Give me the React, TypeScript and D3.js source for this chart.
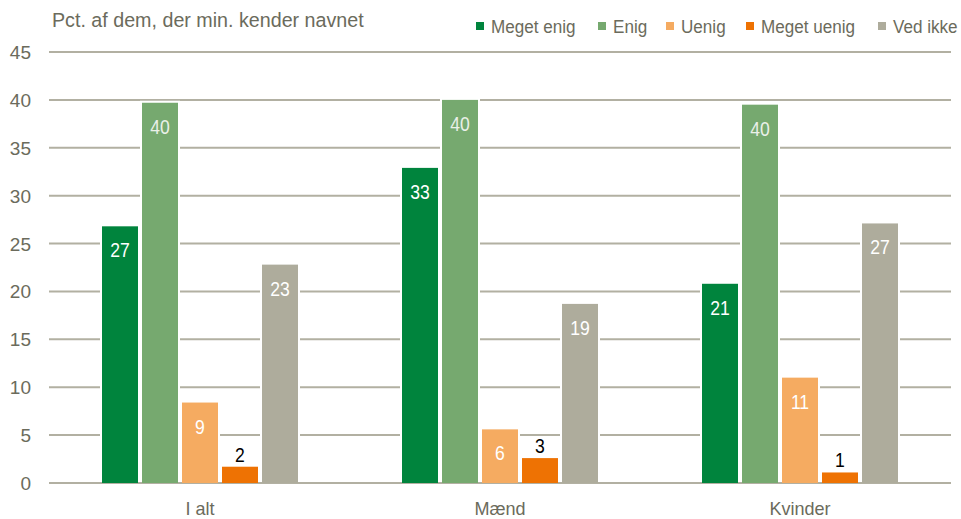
import React from "react";
import * as d3 from "d3";

const categories = ["I alt", "Mænd", "Kvinder"];
const series = ["Meget enig", "Enig", "Uenig", "Meget uenig", "Ved ikke"];
const colors = ["#00843d", "#76a96f", "#f5ab61", "#ee7203", "#aeac9c"];
const values = [
  [26.8, 39.7, 8.4, 1.7, 22.8],
  [32.9, 40.0, 5.6, 2.6, 18.7],
  [20.8, 39.5, 11.0, 1.1, 27.1],
];
const labels = [
  ["27", "40", "9", "2", "23"],
  ["33", "40", "6", "3", "19"],
  ["21", "40", "11", "1", "27"],
];
const yTicks = [0, 5, 10, 15, 20, 25, 30, 35, 40, 45];
const title = "Pct. af dem, der min. kender navnet";

const W = 961;
const H = 519;
const FONT = "'Liberation Sans', Arial, sans-serif";
const TEXT = "#6b6b5c";
const GRID = "#b2b0a2";

function T({
  x,
  y,
  sx = 1,
  size = 19,
  anchor = "start",
  fill = TEXT,
  children,
}: {
  x: number;
  y: number;
  sx?: number;
  size?: number;
  anchor?: string;
  fill?: string;
  children: React.ReactNode;
}) {
  return (
    <text
      transform={`translate(${x},${y}) scale(${sx},1)`}
      fontSize={size}
      textAnchor={anchor as any}
      fill={fill}
    >
      {children}
    </text>
  );
}

export default function App() {
  const x0 = d3
    .scaleBand<string>()
    .domain(categories)
    .range([50, 950])
    .paddingInner(1 / 3)
    .paddingOuter(1 / 6);
  const x1 = d3.scaleBand<string>().domain(series).range([0, x0.bandwidth()]);
  const y = d3.scaleLinear().domain([0, 45]).range([483, 52]);

  const legendX = [476, 598, 666, 746, 878];

  return (
    <svg
      width={W}
      height={H}
      style={{ position: "absolute", left: 0, top: 0, background: "#fff" }}
      fontFamily={FONT}
    >
      <rect width={W} height={H} fill="#fff" />
      <T x={52} y={27} size={19.5} sx={1.01}>
        {title}
      </T>
      {series.map((s, i) => (
        <g key={s}>
          <rect x={legendX[i]} y={22} width={8} height={8} fill={colors[i]} />
          <T x={legendX[i] + 15} y={33} sx={0.9}>
            {s}
          </T>
        </g>
      ))}
      {yTicks.map((t) => (
        <g key={t}>
          <line x1={49} x2={951} y1={y(t)} y2={y(t)} stroke={GRID} strokeWidth={2} />
          <T x={31} y={y(t) + 7} anchor="end">
            {t}
          </T>
        </g>
      ))}
      {categories.map((c, ci) => (
        <g key={c} transform={`translate(${x0(c)},0)`}>
          {series.map((s, si) => {
            const v = values[ci][si];
            const bx = x1(s)!;
            const top = y(v);
            const inside = si !== 3;
            return (
              <g key={s}>
                <rect
                  x={bx}
                  y={top - 2}
                  width={x1.bandwidth()}
                  height={y(0) - top + 1}
                  fill="#fff"
                />
                <rect
                  x={bx + 2}
                  y={top}
                  width={x1.bandwidth() - 4}
                  height={y(0) - top}
                  fill={colors[si]}
                />
                <T
                  x={bx + x1.bandwidth() / 2}
                  y={inside ? top + 31 : top - 5}
                  size={20}
                  sx={0.88}
                  anchor="middle"
                  fill={inside ? (si === 1 ? "#eaf0e8" : "#ffffff") : "#000"}
                >
                  {labels[ci][si]}
                </T>
              </g>
            );
          })}
          <T x={x0.bandwidth() / 2} y={515} anchor="middle" sx={0.95}>
            {c}
          </T>
        </g>
      ))}
    </svg>
  );
}
